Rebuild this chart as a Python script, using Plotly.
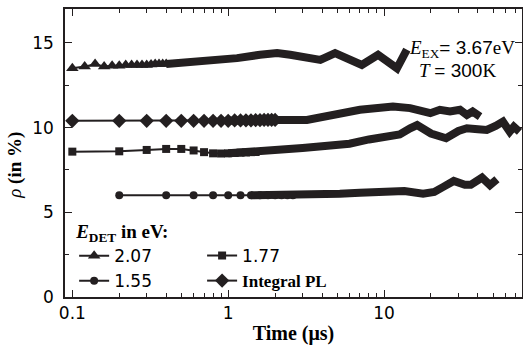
import plotly.graph_objects as go

# ---- data ----
t_207 = [0.10, 0.12, 0.14, 0.16, 0.18, 0.20, 0.22, 0.24, 0.26, 0.28, 0.30, 0.32, 0.34, 0.36, 0.38, 0.40,
         0.5, 0.7, 1.0, 1.14, 1.6, 2.06, 2.5, 3.3, 3.9, 4.85, 7.2, 9.15, 12.1, 14.0]
rho_207 = [13.5, 13.6, 13.75, 13.6, 13.65, 13.65, 13.7, 13.7, 13.7, 13.7, 13.7, 13.72, 13.75, 13.75, 13.75, 13.75,
           13.8, 13.9, 14.05, 14.1, 14.3, 14.4, 14.3, 14.15, 14.0, 14.4, 13.7, 14.3, 13.5, 14.6]

t_177 = [0.1, 0.2, 0.3, 0.4, 0.5, 0.6, 0.7, 0.8, 0.9, 1.0, 1.1, 1.2, 1.3, 1.4, 1.5,
         2.15, 3.0, 4.0, 5.2, 6.0, 8.0, 10.0, 12.6, 14.7, 16.3, 20.0, 25.0, 30.0, 34.0, 40.0,
         45.6, 52.0, 57.9, 64.0, 68.0, 74.0]
rho_177 = [8.58, 8.6, 8.68, 8.74, 8.74, 8.65, 8.55, 8.48, 8.47, 8.48, 8.5, 8.52, 8.53, 8.55, 8.56,
           8.7, 8.8, 8.9, 8.98, 9.05, 9.3, 9.45, 9.6, 9.96, 10.15, 9.65, 9.37, 9.8, 9.96, 9.9,
           9.86, 10.1, 10.35, 9.76, 10.05, 9.75]

t_155 = [0.2, 0.4, 0.6, 0.8, 1.0, 1.2, 1.4, 1.6, 1.8, 2.0, 2.2, 2.4, 2.6,
         3.5, 5.2, 7.0, 9.4, 10.9, 13.5, 17.8, 21.0, 24.0, 28.0, 33.0, 36.0, 42.5, 47.8, 53.0]
rho_155 = [6.0, 6.0, 6.0, 6.0, 6.0, 6.0, 6.0, 6.0, 6.0, 6.0, 6.0, 6.0, 6.0,
           6.02, 6.1, 6.15, 6.22, 6.3, 6.25, 6.1, 6.2, 6.5, 6.85, 6.62, 6.62, 7.05, 6.6, 6.95]

t_int = [0.1, 0.2, 0.3, 0.4, 0.5, 0.6, 0.7, 0.8, 0.9, 1.0, 1.1, 1.2, 1.3, 1.4, 1.5, 1.6, 1.7, 1.8, 1.9, 2.0,
         3.2, 5.0, 5.8, 7.0, 11.4, 14.7, 19.8, 22.8, 26.5, 30.7, 34.0, 37.0, 41.3]
rho_int = [10.4, 10.4, 10.4, 10.4, 10.4, 10.4, 10.4, 10.4, 10.4, 10.4, 10.42, 10.42, 10.43, 10.43, 10.44,
           10.44, 10.45, 10.45, 10.45, 10.45,
           10.45, 10.75, 10.85, 11.05, 11.24, 11.15, 10.85, 11.05, 10.95, 11.05, 10.75, 10.95, 10.65]

x_tickvals = [0.1, 1, 10]
x_ticktext = ["0.1", "1", "10"]
y_tickvals = [0, 5, 10, 15]

INK = "#231f20"
SERIF = "Liberation Serif"
SANS = "DejaVu Sans"

# (label, t, rho, symbol, marker size, markers up to, band from, legend id)
series = [
    ("2.07", t_207, rho_207, "triangle-up", 11, 0.40, 0.40, "legend"),
    ("1.77", t_177, rho_177, "square", 8, 1.5, 1.0, "legend2"),
    ("1.55", t_155, rho_155, "circle", 8, 2.6, 1.4, "legend"),
    ("<span style=\"font-family:Liberation Serif\"><b>Integral PL</b></span>", t_int, rho_int,
     "diamond", 11, 2.0, 1.0, "legend2"),
]

fig = go.Figure()
for name, t, r, sym, msz, mk_until, band_from, lg in series:
    tb = [a for a in t if a >= band_from]
    rb = [b for a, b in zip(t, r) if a >= band_from]
    fig.add_trace(go.Scatter(x=tb, y=rb, mode="lines", showlegend=False,
                             line=dict(color=INK, width=8), hoverinfo="skip"))
    tm = [a for a in t if a <= mk_until]
    rm = [b for a, b in zip(t, r) if a <= mk_until]
    fig.add_trace(go.Scatter(x=tm, y=rm, mode="lines+markers", name=name, legend=lg,
                             line=dict(color=INK, width=2),
                             marker=dict(symbol=sym, size=msz, color=INK, line=dict(width=0))))

axis_common = dict(showline=True, linecolor=INK, linewidth=1.5, mirror="ticks",
                   ticks="inside", ticklen=7, tickwidth=1.2, tickcolor=INK,
                   showgrid=False, zeroline=False,
                   tickfont=dict(family=SANS, size=17, color="black"))

fig.update_xaxes(type="log", range=[-1.047, 1.885], tickvals=x_tickvals, ticktext=x_ticktext,
                 minor=dict(ticks="inside", ticklen=4, tickwidth=1, tickcolor=INK, dtick="D1", showgrid=False),
                 title=dict(text="<b>Time (μs)</b>", font=dict(family=SERIF, size=20, color="black"), standoff=4),
                 **axis_common)
fig.update_yaxes(range=[0, 17], tickvals=y_tickvals,
                 minor=dict(ticks="inside", ticklen=4, tickwidth=1, tickcolor=INK, dtick=2.5, showgrid=False),
                 ticklabelstandoff=6,
                 **axis_common)

# y-axis title (placed as in the reference, slightly below the axis middle)
fig.add_annotation(xref="paper", yref="paper", x=-0.11, y=0.458, xanchor="center", yanchor="middle",
                   textangle=-90, showarrow=False, font=dict(family=SERIF, size=19, color="black"),
                   text="<i>ρ</i> <b>(in %)</b>")

fig.add_annotation(xref="paper", yref="paper", x=0.748, y=0.862, xanchor="left", yanchor="middle",
                   showarrow=False, font=dict(family=SERIF, size=19, color="black"),
                   text="<i>E</i><sub>EX</sub><span style=\"font-family:Liberation Sans\">= 3.67</span>eV")
fig.add_annotation(xref="paper", yref="paper", x=0.77, y=0.786, xanchor="left", yanchor="middle",
                   showarrow=False, font=dict(family=SERIF, size=19, color="black"),
                   text="<i>T</i> <span style=\"font-family:Liberation Sans\">= 300</span>K")

fig.update_layout(
    width=523, height=351,
    margin=dict(l=65, r=1, t=9, b=54, autoexpand=False),
    paper_bgcolor="white", plot_bgcolor="white",
    legend=dict(x=0.02, y=0.29, xanchor="left", yanchor="top", bgcolor="rgba(0,0,0,0)",
                font=dict(family=SANS, size=17, color="black"), itemwidth=30, tracegroupgap=0,
                title=dict(text="<b><i>E</i><sub>DET</sub> in eV:</b>", side="top",
                           font=dict(family=SERIF, size=19, color="black"))),
    legend2=dict(x=0.30, y=0.205, xanchor="left", yanchor="top", bgcolor="rgba(0,0,0,0)",
                 font=dict(family=SANS, size=17, color="black"), itemwidth=30, tracegroupgap=0),
)

fig.write_html("out.html", config={"displayModeBar": False},
               post_script="document.body.style.margin='0px';")
